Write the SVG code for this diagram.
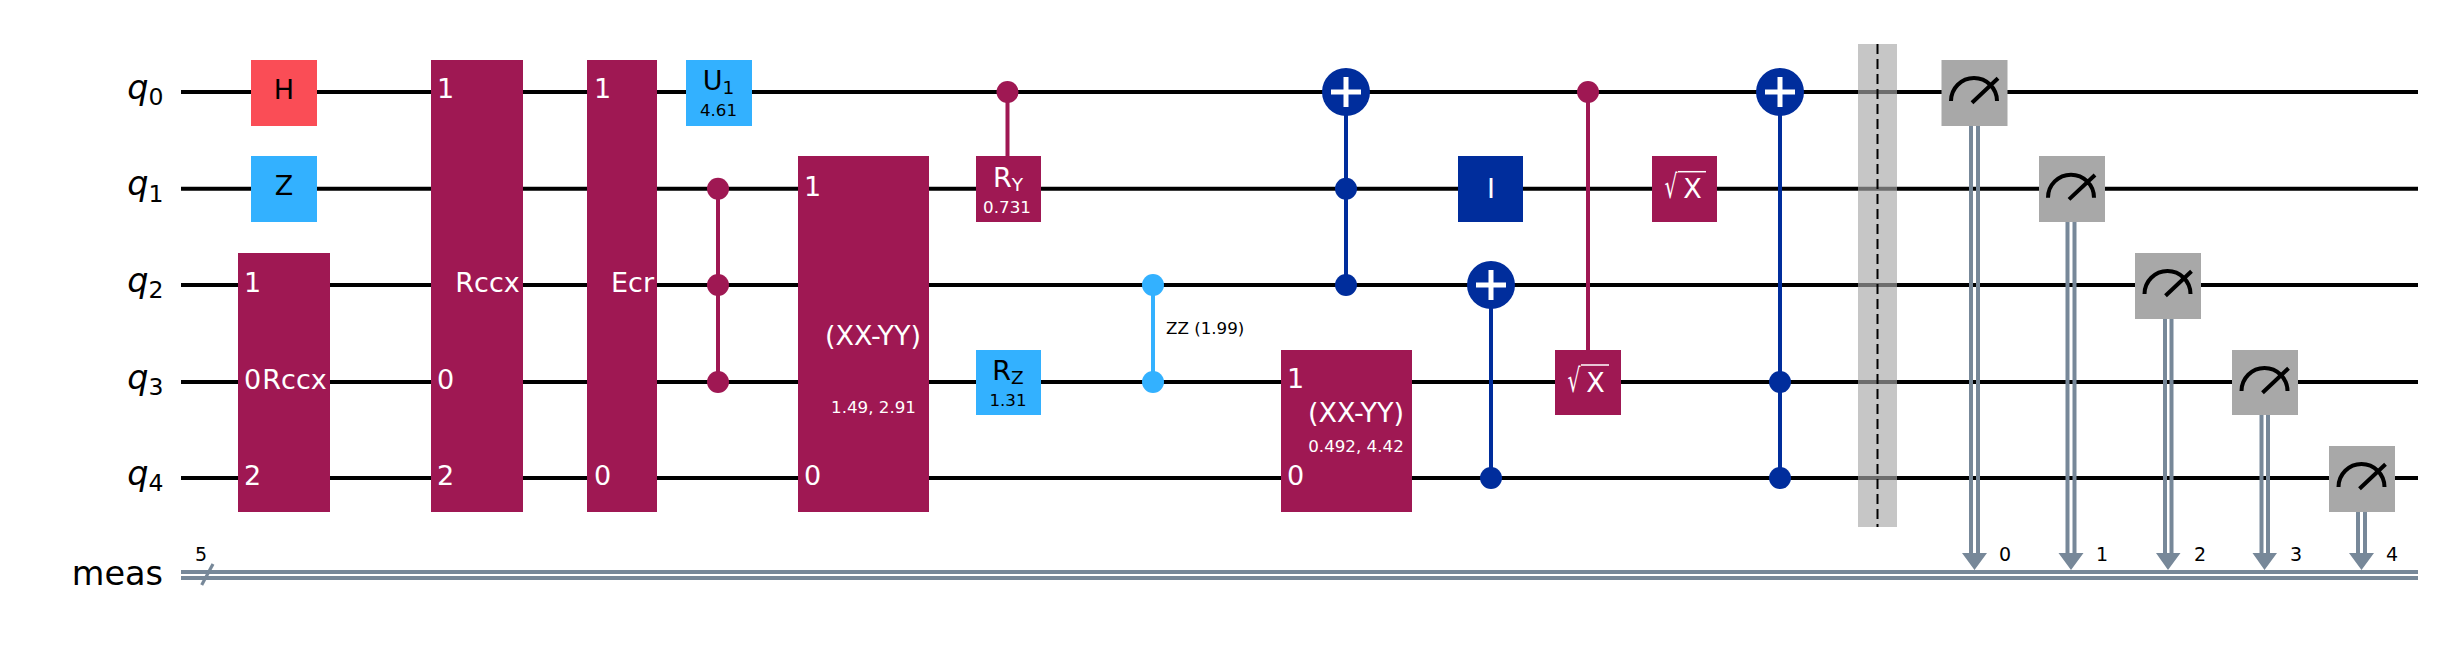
<svg xmlns="http://www.w3.org/2000/svg" width="2438" height="648" viewBox="0 0 2438 648">
<style>
text{font-family:"DejaVu Sans",sans-serif;font-size:27px;fill:#000}
.w{fill:#fff}
.s{font-size:16.7px}
.m{text-anchor:middle}
.lab{font-size:33.500px;text-anchor:end}
.lab tspan.q{font-style:italic}
.sub{font-size:23.500px}
.gs{font-size:18.500px}
.num{font-size:19px;text-anchor:middle}
.pink{fill:#9f1853}.blue{fill:#002d9c}.sky{fill:#33b1ff}.red{fill:#fa4d56}.gray{fill:#a8a8a8}
.wire{stroke:#000;stroke-width:4;fill:none}
.cl{stroke:#778899;stroke-width:4;fill:none}
.slash{stroke:#778899;stroke-width:3.2;fill:none}
.vp{stroke:#9f1853;stroke-width:4}.vb{stroke:#002d9c;stroke-width:4}.vs{stroke:#33b1ff;stroke-width:4}
.plus{stroke:#fff;stroke-width:5;fill:none}
.arc{stroke:#000;stroke-width:4;fill:none}
.rad{stroke:#fff;stroke-width:1.5;fill:none}
</style>
<rect width="2438" height="648" fill="#fff"/>
<g id="connectors">
<path class="wire" d="M181 92H2418M181 188.7H2418M181 285H2418M181 382H2418M181 478H2418"/>
<path class="cl" d="M181 572H2418M181 578H2418"/>
<path class="slash" d="M201.700 585L213 564"/>
<path class="vp" d="M718 188.7V382M1007.500 92V156M1588 92V350"/>
<path class="vs" d="M1153 285V382"/>
<path class="vb" d="M1346 92V285M1491 285V478M1780 92V478"/>
<path class="cl" d="M1971 125V556M1978 125V556M2067.500 221V556M2074.500 221V556M2165 318V556M2171.500 318V556M2261.500 415V556M2268 415V556M2358 511V556M2365 511V556"/>
<path fill="#778899" d="M1962 553H1987L1974.500 570ZM2058.500 553H2083.500L2071 570ZM2156 553H2180.500L2168 570ZM2252.500 553H2277L2264.500 570ZM2349 553H2374L2361.500 570Z"/>
</g>
<g id="label-q0"><text class="lab" x="163.500" y="98.500"><tspan class="q">q</tspan><tspan class="sub" dy="6.500">0</tspan></text></g>
<g id="label-q1"><text class="lab" x="163.500" y="195"><tspan class="q">q</tspan><tspan class="sub" dy="6.500">1</tspan></text></g>
<g id="label-q2"><text class="lab" x="163.500" y="291.500"><tspan class="q">q</tspan><tspan class="sub" dy="6.500">2</tspan></text></g>
<g id="label-q3"><text class="lab" x="163.500" y="388.500"><tspan class="q">q</tspan><tspan class="sub" dy="6.500">3</tspan></text></g>
<g id="label-q4"><text class="lab" x="163.500" y="484.500"><tspan class="q">q</tspan><tspan class="sub" dy="6.500">4</tspan></text></g>
<g id="label-meas"><text class="lab" x="163" y="585">meas</text><text class="num" x="201" y="560.500">5</text></g>

<g id="h"><rect class="red" x="251" y="60" width="66" height="66"/><text class="m" x="284" y="98.500">H</text></g>
<g id="z"><rect class="sky" x="251" y="156" width="66" height="66"/><text class="m" x="284" y="195">Z</text></g>
<g id="rccx1"><rect class="pink" x="238" y="253" width="92" height="259"/>
<text class="w" x="244" y="291.500">1</text><text class="w" x="244" y="388.500">0</text><text class="w" x="244" y="485">2</text><text class="w m" x="294.500" y="388.500">Rccx</text></g>
<g id="rccx2"><rect class="pink" x="431" y="60" width="92" height="452"/>
<text class="w" x="437" y="98">1</text><text class="w" x="437" y="388.500">0</text><text class="w" x="437" y="485">2</text><text class="w m" x="487.500" y="291.500">Rccx</text></g>
<g id="ecr"><rect class="pink" x="587" y="60" width="70" height="452"/>
<text class="w" x="594" y="98">1</text><text class="w" x="594" y="485">0</text><text class="w m" x="632.500" y="291.500">Ecr</text></g>
<g id="u1"><rect class="sky" x="686" y="60" width="66" height="66"/><text class="m" x="718.500" y="90">U<tspan class="gs" dy="4">1</tspan></text><text class="s m" x="718.500" y="116">4.61</text></g>
<g id="cz"><circle class="pink" cx="718" cy="188.700" r="11"/><circle class="pink" cx="718" cy="285" r="11"/><circle class="pink" cx="718" cy="382" r="11"/></g>
<g id="xxyy1"><rect class="pink" x="798" y="156" width="131" height="356"/>
<text class="w" x="804" y="195.500">1</text><text class="w" x="804" y="485">0</text><text class="w m" x="873" y="345">(XX-YY)</text><text class="w s m" x="873.500" y="413">1.49, 2.91</text></g>
<g id="ry"><circle class="pink" cx="1007.500" cy="92" r="11"/><rect class="pink" x="976" y="156" width="65" height="66"/><text class="w m" x="1008" y="186.500">R<tspan class="gs" dy="4">Y</tspan></text><text class="w s m" x="1007" y="212.500">0.731</text></g>
<g id="rz"><rect class="sky" x="976" y="350" width="65" height="65"/><text class="m" x="1008" y="380">R<tspan class="gs" dy="4">Z</tspan></text><text class="s m" x="1008" y="406">1.31</text></g>
<g id="zz"><circle class="sky" cx="1153" cy="285" r="11"/><circle class="sky" cx="1153" cy="382" r="11"/><text class="s" x="1166" y="334">ZZ (1.99)</text></g>
<g id="cx1"><circle class="blue" cx="1346" cy="92" r="24"/><path class="plus" d="M1331 92H1361M1346 77V107"/><circle class="blue" cx="1346" cy="188.700" r="11"/><circle class="blue" cx="1346" cy="285" r="11"/></g>
<g id="xxyy2"><rect class="pink" x="1281" y="350" width="131" height="162"/>
<text class="w" x="1287" y="388">1</text><text class="w" x="1287" y="485">0</text><text class="w m" x="1356" y="421.700">(XX-YY)</text><text class="w s m" x="1356" y="451.700">0.492, 4.42</text></g>
<g id="i"><rect class="blue" x="1458" y="156" width="65" height="66"/><text class="w m" x="1491" y="198">I</text></g>
<g id="cx2"><circle class="blue" cx="1491" cy="285" r="24"/><path class="plus" d="M1476 285H1506M1491 270V300"/><circle class="blue" cx="1491" cy="478" r="11"/></g>
<g id="csx"><circle class="pink" cx="1588" cy="92" r="11"/><rect class="pink" x="1555" y="350" width="66" height="65"/><text class="w" transform="translate(1567.400 391.500) scale(.75 1.2)">√</text><text class="w m" x="1595.500" y="391.500">X</text><path class="rad" d="M1581 365H1609"/></g>
<g id="sx"><rect class="pink" x="1652" y="156" width="65" height="66"/><text class="w" transform="translate(1664.400 198.200) scale(.75 1.2)">√</text><text class="w m" x="1692.500" y="198.200">X</text><path class="rad" d="M1678 171.700H1706"/></g>
<g id="cx3"><circle class="blue" cx="1780" cy="92" r="24"/><path class="plus" d="M1765 92H1795M1780 77V107"/><circle class="blue" cx="1780" cy="382" r="11"/><circle class="blue" cx="1780" cy="478" r="11"/></g>
<g id="barrier"><rect x="1858" y="44" width="39" height="483" fill="#a8a8a8" opacity=".65"/><path d="M1877.500 44V527" stroke="#000" stroke-width="2" stroke-dasharray="10 5" fill="none"/></g>
<g id="m0"><rect class="gray" x="1941.500" y="60" width="66" height="66"/><path class="arc" d="M1951 101A23 23 0 0 1 1997 101M1972 102.700L1998 78.300"/></g>
<g id="m1"><rect class="gray" x="2039" y="156" width="66" height="66"/><path class="arc" d="M2048 197.700A23 23 0 0 1 2094 197.700M2069 199.400L2095 175"/></g>
<g id="m2"><rect class="gray" x="2135" y="253" width="66" height="66"/><path class="arc" d="M2144.500 294A23 23 0 0 1 2190.500 294M2165.500 295.700L2191.500 271.300"/></g>
<g id="m3"><rect class="gray" x="2232" y="350" width="66" height="65"/><path class="arc" d="M2241.500 391A23 23 0 0 1 2287.500 391M2262.500 392.700L2288.500 368.300"/></g>
<g id="m4"><rect class="gray" x="2329" y="446" width="66" height="66"/><path class="arc" d="M2338.500 487A23 23 0 0 1 2384.500 487M2359.500 488.700L2385.500 464.300"/></g>
<g id="bits"><text class="num" x="2005" y="560.500">0</text><text class="num" x="2102" y="560.500">1</text><text class="num" x="2200" y="560.500">2</text><text class="num" x="2296" y="560.500">3</text><text class="num" x="2392" y="560.500">4</text></g>
</svg>
